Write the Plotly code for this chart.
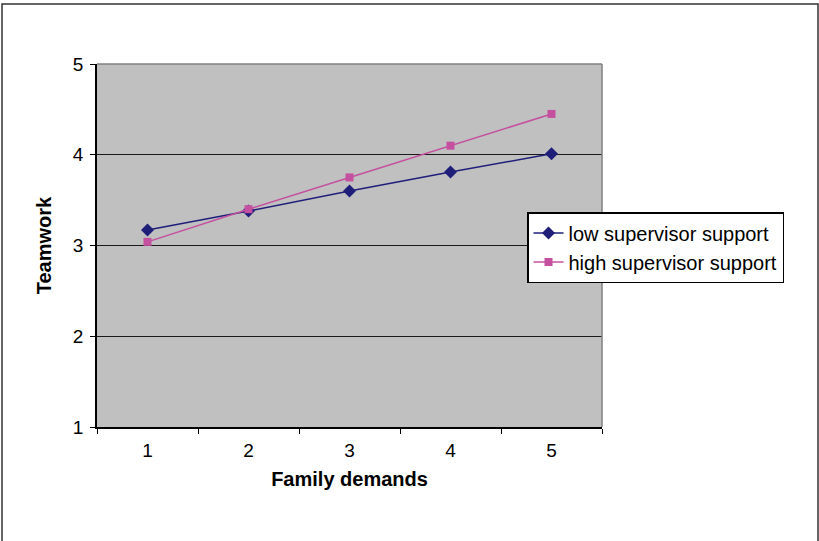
import plotly.graph_objects as go

categories = ["1", "2", "3", "4", "5"]
low_support = [3.17, 3.38, 3.60, 3.81, 4.01]
high_support = [3.04, 3.40, 3.75, 4.10, 4.45]
series_names = ["low supervisor support", "high supervisor support"]

fig = go.Figure()
fig.add_trace(go.Scatter(
    x=categories, y=low_support, name=series_names[0], mode="lines+markers",
    line=dict(color="#1F1F7A", width=1.5),
    marker=dict(symbol="diamond", size=10, color="#1F1F7A"),
))
fig.add_trace(go.Scatter(
    x=categories, y=high_support, name=series_names[1], mode="lines+markers",
    line=dict(color="#C4509F", width=1.5),
    marker=dict(symbol="square", size=8, color="#C4509F"),
))

font = "Liberation Sans, Arial, sans-serif"
fig.update_layout(
    width=819, height=541,
    margin=dict(l=97, r=217, t=64, b=114, autoexpand=False),
    paper_bgcolor="white", plot_bgcolor="#C0C0C0",
    font=dict(family=font, size=19, color="black"),
    showlegend=True,
    legend=dict(
        x=(527 - 97) / 505, y=(427 - 212) / 363, xanchor="left", yanchor="top",
        bgcolor="white", bordercolor="black", borderwidth=1.5,
        font=dict(size=20), tracegroupgap=0, itemwidth=30,
    ),
    xaxis=dict(
        type="category", tickson="boundaries", ticks="outside", ticklen=5,
        tickcolor="black", showline=True, linecolor="black", linewidth=1.5,
        showgrid=False, range=[-0.5, 4.5], ticklabelstandoff=5,
        title=dict(text="<b>Family demands</b>", font=dict(size=20), standoff=12),
        tickfont=dict(size=19),
    ),
    yaxis=dict(
        range=[1, 5], dtick=1, ticks="outside", ticklen=5, tickcolor="black",
        showline=True, linecolor="black", linewidth=1.5, ticklabelstandoff=3,
        showgrid=True, gridcolor="#1a1a1a", gridwidth=1,
        title=dict(text="<b>Teamwork</b>", font=dict(size=20), standoff=16),
        tickfont=dict(size=19), zeroline=False,
    ),
    shapes=[
        dict(type="line", xref="paper", yref="paper", x0=0, x1=1, y0=1, y1=1,
             line=dict(color="#808080", width=1.5)),
        dict(type="line", xref="paper", yref="paper", x0=1, x1=1, y0=0, y1=1,
             line=dict(color="#808080", width=1.5)),
        dict(type="rect", xref="paper", yref="paper",
             x0=(2 - 97) / 505, x1=(818 - 97) / 505,
             y0=(427 - 550) / 363, y1=(427 - 4) / 363,
             line=dict(color="#333333", width=1.5), fillcolor="rgba(0,0,0,0)",
             layer="below"),
    ],
)

fig.write_html("out.html", config={"displayModeBar": False},
               post_script="document.body.style.margin='0';")
